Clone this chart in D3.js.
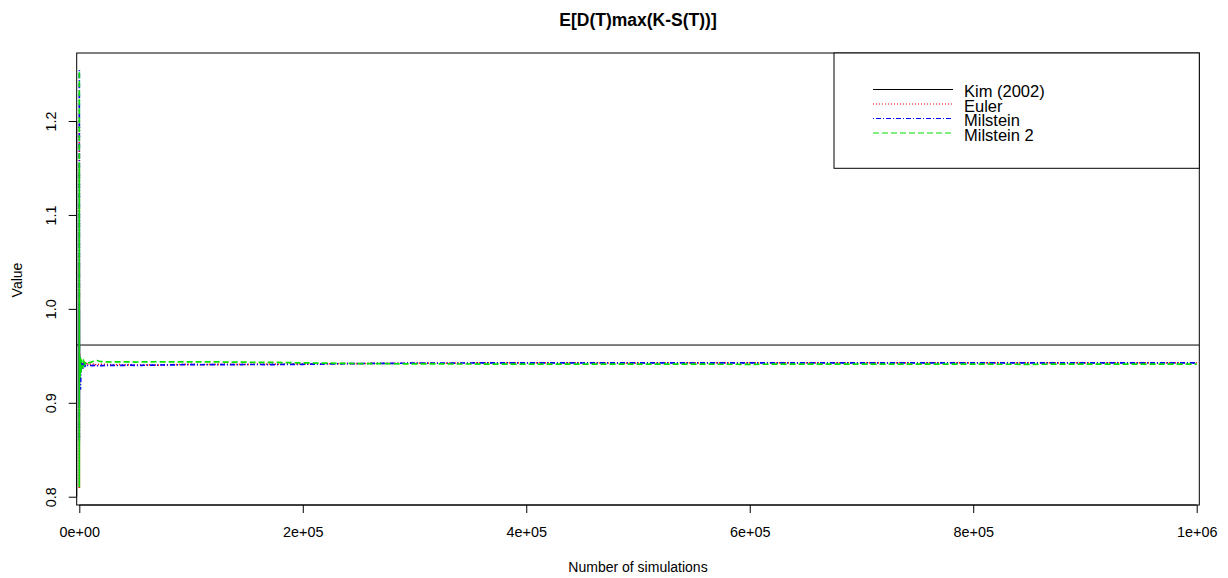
<!DOCTYPE html>
<html>
<head>
<meta charset="utf-8">
<script src="https://cdn.jsdelivr.net/npm/d3@7"></script>
<style>
  body { margin: 0; background: #fff; }
  svg { display: block; font-family: "Liberation Sans", Arial, sans-serif; }
</style>
</head>
<body>
<script>
// number of simulations at which the running estimates were read
var simCounts = [1, 2, 5, 10, 30, 100, 300, 600, 1000, 1500,
  2000, 3000, 4000, 5000, 6000, 7000, 8000, 10000, 12000, 14000,
  16000, 18000, 20000, 25000, 30000, 35000, 40000, 45000, 50000, 60000,
  70000, 80000, 90000, 100000, 110000, 120000, 130000, 140000, 150000, 175000,
  200000, 250000, 300000, 350000, 400000, 450000, 500000, 550000, 600000, 650000,
  700000, 750000, 800000, 850000, 900000, 950000, 1000000];

var euler = [1.200, 0.809, 1.05, 0.86, 0.97, 0.925, 0.952, 0.935, 0.946, 0.938,
  0.942, 0.940, 0.944, 0.941, 0.943, 0.940, 0.942, 0.941, 0.9415, 0.940,
  0.9412, 0.9405, 0.941, 0.9408, 0.9403, 0.9407, 0.9402, 0.9406, 0.9400, 0.9404,
  0.9401, 0.9405, 0.9408, 0.9410, 0.9407, 0.9409, 0.9411, 0.9408, 0.9410, 0.9412,
  0.9414, 0.9418, 0.9422, 0.9424, 0.9425, 0.9424, 0.9423, 0.9425, 0.9426, 0.9425,
  0.9424, 0.9425, 0.9426, 0.9425, 0.9424, 0.9425, 0.9425];

var milstein = [1.254, 0.86, 1.10, 0.90, 1.00, 0.93, 0.95, 0.925, 0.914, 0.935,
  0.943, 0.936, 0.941, 0.939, 0.9405, 0.9395, 0.940, 0.9397, 0.9396, 0.9398,
  0.9395, 0.9397, 0.9396, 0.9398, 0.9400, 0.9397, 0.9399, 0.9401, 0.9398, 0.9400,
  0.9402, 0.9404, 0.9405, 0.9406, 0.9405, 0.9407, 0.9406, 0.9407, 0.9408, 0.9407,
  0.9410, 0.9418, 0.9422, 0.9424, 0.9425, 0.9424, 0.9425, 0.9424, 0.9425, 0.9426,
  0.9425, 0.9424, 0.9425, 0.9426, 0.9425, 0.9425, 0.9425];

var milstein2 = [1.252, 0.81, 1.15, 0.83, 1.02, 0.93, 0.9495, 0.925, 0.948, 0.932,
  0.946, 0.937, 0.944, 0.941, 0.9435, 0.942, 0.9425, 0.943, 0.944, 0.9445,
  0.945, 0.9442, 0.9438, 0.9436, 0.9434, 0.9437, 0.9435, 0.9436, 0.9434, 0.9436,
  0.9437, 0.9435, 0.9436, 0.9437, 0.9435, 0.9436, 0.9434, 0.9433, 0.9432, 0.9430,
  0.9425, 0.9418, 0.9414, 0.9413, 0.9412, 0.9411, 0.9412, 0.9411, 0.9410, 0.9412,
  0.9411, 0.9412, 0.9411, 0.9410, 0.9412, 0.9411, 0.9412];

var kimValue = 0.9615;

var xTicks = [0, 200000, 400000, 600000, 800000, 1000000];
var yTicks = [0.8, 0.9, 1.0, 1.1, 1.2];

var seriesNames = ["Kim (2002)", "Euler", "Milstein", "Milstein 2"];
var seriesColors = ["#000000", "#ff0000", "#0000ff", "#00e000"];
var seriesDash = [null, "1 2", "1 2 5 2", "6 3"];

var W = 1228, H = 578,
    margin = {top: 53, right: 28.7, bottom: 73, left: 76.7},
    width = W - margin.left - margin.right,
    height = H - margin.top - margin.bottom;

var svg = d3.select("body").append("svg").attr("width", W).attr("height", H);

var x = d3.scaleLinear().domain([-2330, 1002330]).range([0, width]),
    y = d3.scaleLinear().domain([0.7912, 1.2724]).range([height, 0]);

var g = svg.append("g")
    .attr("transform", "translate(" + margin.left + "," + margin.top + ")");

g.append("clipPath").attr("id", "plotclip")
  .append("rect").attr("width", width).attr("height", height);

function sciFmt(v) {
  if (v === 0) return "0e+00";
  var e = Math.floor(Math.log10(v) + 1e-9);
  var m = Math.round(v / Math.pow(10, e));
  return m + "e+" + (e < 10 ? "0" : "") + e;
}

// x axis
var xAxis = g.append("g")
    .attr("transform", "translate(0," + height + ")")
    .call(d3.axisBottom(x).tickValues(xTicks).tickFormat(sciFmt).tickSize(8).tickSizeOuter(0));
xAxis.select(".domain").remove();
xAxis.append("line")
    .attr("x1", x(xTicks[0])).attr("x2", x(xTicks[xTicks.length - 1]))
    .attr("stroke", "#000");
xAxis.selectAll("text")
    .attr("y", 32.3).attr("dy", 0)
    .attr("font-size", "14.4px").attr("fill", "#000");

// y axis, labels parallel to the axis as R does
var yAxis = g.append("g")
    .call(d3.axisLeft(y).tickValues(yTicks).tickFormat(d3.format(".1f")).tickSize(8).tickSizeOuter(0));
yAxis.select(".domain").remove();
yAxis.append("line")
    .attr("y1", y(yTicks[0])).attr("y2", y(yTicks[yTicks.length - 1]))
    .attr("stroke", "#000");
yAxis.selectAll("text")
    .attr("x", 0).attr("dy", 0)
    .attr("transform", "translate(-20.2,0) rotate(-90)")
    .attr("text-anchor", "middle")
    .attr("font-size", "14.4px").attr("fill", "#000");

// series
var plot = g.append("g").attr("clip-path", "url(#plotclip)");

plot.append("line")
    .attr("x1", 0).attr("x2", width)
    .attr("y1", y(kimValue)).attr("y2", y(kimValue))
    .attr("stroke", seriesColors[0]).attr("stroke-width", 1);

var line = d3.line()
    .x(function(d, i) { return x(simCounts[i]); })
    .y(function(d) { return y(d); });

[euler, milstein, milstein2].forEach(function(s, k) {
  plot.append("path")
    .attr("d", line(s))
    .attr("fill", "none")
    .attr("stroke", seriesColors[k + 1])
    .attr("stroke-width", 1.7)
    .attr("stroke-dasharray", seriesDash[k + 1]);
});

// plot box
g.append("rect")
    .attr("width", width).attr("height", height)
    .attr("fill", "none").attr("stroke", "#000");

// legend
var leg = g.append("g").attr("transform", "translate(" + (834 - margin.left) + ",0)");
leg.append("rect")
    .attr("width", width - (834 - margin.left)).attr("height", 115.3)
    .attr("fill", "#fff").attr("stroke", "#000");
seriesNames.forEach(function(name, i) {
  var ly = 36.5 + i * 14.5;
  leg.append("line")
    .attr("x1", 39).attr("x2", 119)
    .attr("y1", ly).attr("y2", ly)
    .attr("stroke", seriesColors[i])
    .attr("stroke-width", 1)
    .attr("stroke-dasharray", seriesDash[i]);
  leg.append("text")
    .attr("x", 130).attr("y", ly + 7.5)
    .attr("font-size", "16.5px").attr("fill", "#000")
    .text(name);
});

// titles
svg.append("text")
    .attr("x", margin.left + width / 2).attr("y", 26)
    .attr("text-anchor", "middle")
    .attr("font-size", "17.5px").attr("font-weight", "bold")
    .text("E[D(T)max(K-S(T))]");

svg.append("text")
    .attr("x", margin.left + width / 2).attr("y", 572)
    .attr("text-anchor", "middle")
    .attr("font-size", "14px")
    .text("Number of simulations");

svg.append("text")
    .attr("transform", "translate(22,280) rotate(-90)")
    .attr("text-anchor", "middle")
    .attr("font-size", "14px")
    .text("Value");
</script>
</body>
</html>
